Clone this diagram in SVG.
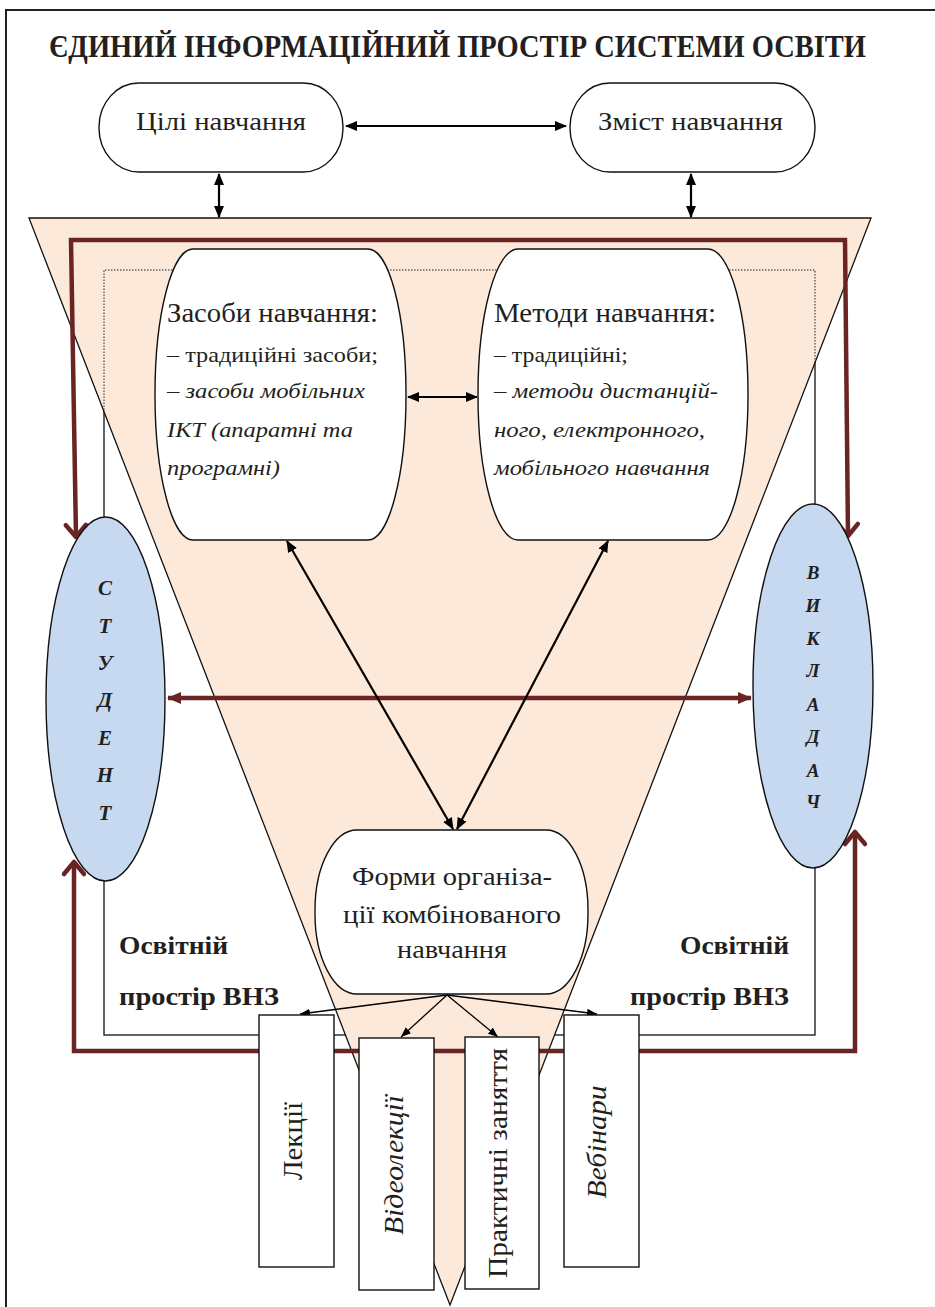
<svg xmlns="http://www.w3.org/2000/svg" width="935" height="1307" viewBox="0 0 935 1307">
<style>
.node{fill:#fff;stroke:#111;stroke-width:1.4}
.ell{fill:#c6d9f1;stroke:#111;stroke-width:1.4}
.blk{stroke:#000;stroke-width:2.2;fill:none}
.thin{stroke:#000;stroke-width:1.3;fill:none}
.mar{stroke:#6a2424;stroke-width:4.5;fill:none}
</style>
<defs>
<marker id="ab" viewBox="0 0 12 10" refX="11" refY="5" markerWidth="12" markerHeight="10" markerUnits="userSpaceOnUse" orient="auto-start-reverse">
<path d="M0,0 L12,5 L0,10 Z" fill="#000"/>
</marker>
<marker id="as" viewBox="0 0 10 8" refX="10" refY="4" markerWidth="10" markerHeight="8" markerUnits="userSpaceOnUse" orient="auto-start-reverse">
<path d="M0,0 L10,4 L0,8 Z" fill="#000"/>
</marker>
<marker id="am" viewBox="0 0 14 12" refX="13" refY="6" markerWidth="14" markerHeight="12" markerUnits="userSpaceOnUse" orient="auto-start-reverse">
<path d="M0,0 L14,6 L0,12 Z" fill="#6a2424"/>
</marker>
<marker id="av" viewBox="-4 -4 24 32" refX="14" refY="12" markerWidth="24" markerHeight="32" markerUnits="userSpaceOnUse" orient="auto-start-reverse">
<path d="M2,2 L14,12 L2,22" fill="none" stroke="#6a2424" stroke-width="4.5" stroke-linecap="round" stroke-linejoin="round"/>
</marker>
</defs>
<rect width="935" height="1307" fill="#fff"/>
<path d="M6,1307 V10 H935" fill="none" stroke="#222" stroke-width="2"/>
<text font-family="'Liberation Serif', serif" fill="#231f20" font-weight="bold" x="49" y="57" font-size="31" textLength="817" lengthAdjust="spacingAndGlyphs">ЄДИНИЙ ІНФОРМАЦІЙНИЙ ПРОСТІР СИСТЕМИ ОСВІТИ</text>

<g id="space">
<rect x="104" y="270" width="711" height="765" fill="#fff" stroke="#111" stroke-width="1.3"/>
</g>
<g id="funnel">
<polygon points="29,218 871,218 450,1305" fill="#fde9d9" stroke="#111" stroke-width="1.3"/>
<path d="M104,413 V270 H815 V363" fill="none" stroke="#222" stroke-width="1" stroke-dasharray="1.5,1.5"/>
</g>

<g id="connectors">
<path class="mar" d="M76,537 L71,240 H845 L848,536" marker-start="url(#av)" marker-end="url(#av)"/>
<path class="mar" d="M74,862 V1051 H855 V832" marker-start="url(#av)" marker-end="url(#av)"/>
<line class="mar" x1="168" y1="698" x2="751" y2="698" stroke-width="4" marker-start="url(#am)" marker-end="url(#am)"/>
<line class="blk" x1="346" y1="126" x2="566" y2="126" marker-start="url(#ab)" marker-end="url(#ab)"/>
<line class="blk" x1="219" y1="174" x2="219" y2="217" marker-start="url(#ab)" marker-end="url(#ab)"/>
<line class="blk" x1="691" y1="174" x2="691" y2="217" marker-start="url(#ab)" marker-end="url(#ab)"/>
<line class="blk" x1="408" y1="397" x2="477" y2="397" marker-start="url(#ab)" marker-end="url(#ab)"/>
<line class="blk" x1="287" y1="541" x2="453" y2="829" marker-start="url(#ab)" marker-end="url(#ab)"/>
<line class="blk" x1="608" y1="541" x2="457" y2="829" marker-start="url(#ab)" marker-end="url(#ab)"/>
<line class="thin" x1="447" y1="995" x2="300" y2="1014" marker-end="url(#as)"/>
<line class="thin" x1="447" y1="995" x2="401" y2="1037" marker-end="url(#as)"/>
<line class="thin" x1="447" y1="995" x2="498" y2="1037" marker-end="url(#as)"/>
<line class="thin" x1="447" y1="995" x2="597" y2="1014" marker-end="url(#as)"/>
</g>

<g id="goals">
<rect class="node" x="99" y="83" width="244" height="89" rx="40" ry="44"/>
<text font-family="'Liberation Serif', serif" fill="#231f20" x="136" y="130" font-size="26" textLength="170" lengthAdjust="spacingAndGlyphs">Цілі навчання</text>
</g>
<g id="content">
<rect class="node" x="570" y="83" width="245" height="89" rx="40" ry="44"/>
<text font-family="'Liberation Serif', serif" fill="#231f20" x="598" y="130" font-size="26" textLength="185" lengthAdjust="spacingAndGlyphs">Зміст навчання</text>
</g>

<g id="means">
<rect class="node" x="155" y="249" width="251" height="291" rx="38" ry="145"/>
<text font-family="'Liberation Serif', serif" fill="#231f20" x="167" y="322" font-size="27" textLength="211" lengthAdjust="spacingAndGlyphs">Засоби навчання:</text>
<text font-family="'Liberation Serif', serif" fill="#231f20" x="167" y="362" font-size="22" textLength="211" lengthAdjust="spacingAndGlyphs">– традиційні засоби;</text>
<text font-family="'Liberation Serif', serif" fill="#231f20" font-style="italic" x="167" y="398" font-size="22" textLength="198" lengthAdjust="spacingAndGlyphs">– засоби мобільних</text>
<text font-family="'Liberation Serif', serif" fill="#231f20" font-style="italic" x="167" y="437" font-size="22" textLength="186" lengthAdjust="spacingAndGlyphs">ІКТ (апаратні та</text>
<text font-family="'Liberation Serif', serif" fill="#231f20" font-style="italic" x="167" y="475" font-size="22" textLength="113" lengthAdjust="spacingAndGlyphs">програмні)</text>
</g>

<g id="methods">
<rect class="node" x="478" y="249" width="270" height="291" rx="40" ry="145"/>
<text font-family="'Liberation Serif', serif" fill="#231f20" x="494" y="322" font-size="27" textLength="222" lengthAdjust="spacingAndGlyphs">Методи навчання:</text>
<text font-family="'Liberation Serif', serif" fill="#231f20" x="494" y="362" font-size="22" textLength="134" lengthAdjust="spacingAndGlyphs">– традиційні;</text>
<text font-family="'Liberation Serif', serif" fill="#231f20" font-style="italic" x="494" y="398" font-size="22" textLength="224" lengthAdjust="spacingAndGlyphs">– методи дистанцій-</text>
<text font-family="'Liberation Serif', serif" fill="#231f20" font-style="italic" x="494" y="437" font-size="22" textLength="211" lengthAdjust="spacingAndGlyphs">ного, електронного,</text>
<text font-family="'Liberation Serif', serif" fill="#231f20" font-style="italic" x="494" y="475" font-size="22" textLength="216" lengthAdjust="spacingAndGlyphs">мобільного навчання</text>
</g>

<g id="student">
<ellipse class="ell" cx="105.5" cy="699" rx="59.5" ry="182"/>
<text font-family="'Liberation Serif', serif" fill="#231f20" font-weight="bold" font-style="italic" font-size="21" text-anchor="middle" x="105" y="595">С</text>
<text font-family="'Liberation Serif', serif" fill="#231f20" font-weight="bold" font-style="italic" font-size="21" text-anchor="middle" x="105" y="633">Т</text>
<text font-family="'Liberation Serif', serif" fill="#231f20" font-weight="bold" font-style="italic" font-size="21" text-anchor="middle" x="105" y="670">У</text>
<text font-family="'Liberation Serif', serif" fill="#231f20" font-weight="bold" font-style="italic" font-size="21" text-anchor="middle" x="105" y="707">Д</text>
<text font-family="'Liberation Serif', serif" fill="#231f20" font-weight="bold" font-style="italic" font-size="21" text-anchor="middle" x="105" y="745">Е</text>
<text font-family="'Liberation Serif', serif" fill="#231f20" font-weight="bold" font-style="italic" font-size="21" text-anchor="middle" x="105" y="782">Н</text>
<text font-family="'Liberation Serif', serif" fill="#231f20" font-weight="bold" font-style="italic" font-size="21" text-anchor="middle" x="105" y="820">Т</text>
</g>

<g id="teacher">
<ellipse class="ell" cx="813" cy="686" rx="60" ry="182"/>
<text font-family="'Liberation Serif', serif" fill="#231f20" font-weight="bold" font-style="italic" font-size="19" text-anchor="middle" x="813" y="579">В</text>
<text font-family="'Liberation Serif', serif" fill="#231f20" font-weight="bold" font-style="italic" font-size="19" text-anchor="middle" x="813" y="612">И</text>
<text font-family="'Liberation Serif', serif" fill="#231f20" font-weight="bold" font-style="italic" font-size="19" text-anchor="middle" x="813" y="645">К</text>
<text font-family="'Liberation Serif', serif" fill="#231f20" font-weight="bold" font-style="italic" font-size="19" text-anchor="middle" x="813" y="677">Л</text>
<text font-family="'Liberation Serif', serif" fill="#231f20" font-weight="bold" font-style="italic" font-size="19" text-anchor="middle" x="813" y="711">А</text>
<text font-family="'Liberation Serif', serif" fill="#231f20" font-weight="bold" font-style="italic" font-size="19" text-anchor="middle" x="813" y="743">Д</text>
<text font-family="'Liberation Serif', serif" fill="#231f20" font-weight="bold" font-style="italic" font-size="19" text-anchor="middle" x="813" y="777">А</text>
<text font-family="'Liberation Serif', serif" fill="#231f20" font-weight="bold" font-style="italic" font-size="19" text-anchor="middle" x="813" y="808">Ч</text>
</g>

<g id="forms">
<rect class="node" x="315" y="830" width="273" height="164" rx="42" ry="80"/>
<text font-family="'Liberation Serif', serif" fill="#231f20" font-size="26" text-anchor="middle" x="452" y="885" textLength="200" lengthAdjust="spacingAndGlyphs">Форми організа-</text>
<text font-family="'Liberation Serif', serif" fill="#231f20" font-size="26" text-anchor="middle" x="452" y="923" textLength="218" lengthAdjust="spacingAndGlyphs">ції комбінованого</text>
<text font-family="'Liberation Serif', serif" fill="#231f20" font-size="26" text-anchor="middle" x="452" y="958" textLength="110" lengthAdjust="spacingAndGlyphs">навчання</text>
</g>

<g id="space-labels">
<text font-family="'Liberation Serif', serif" fill="#231f20" font-weight="bold" font-size="26" x="119" y="954" textLength="109" lengthAdjust="spacingAndGlyphs">Освітній</text>
<text font-family="'Liberation Serif', serif" fill="#231f20" font-weight="bold" font-size="26" x="119" y="1005" textLength="160" lengthAdjust="spacingAndGlyphs">простір ВНЗ</text>
<text font-family="'Liberation Serif', serif" fill="#231f20" font-weight="bold" font-size="26" x="680" y="954" textLength="109" lengthAdjust="spacingAndGlyphs">Освітній</text>
<text font-family="'Liberation Serif', serif" fill="#231f20" font-weight="bold" font-size="26" x="630" y="1005" textLength="159" lengthAdjust="spacingAndGlyphs">простір ВНЗ</text>
</g>

<g id="lectures">
<rect class="node" x="259" y="1015" width="75" height="252"/>
<text font-family="'Liberation Serif', serif" fill="#231f20" transform="translate(302,1141) rotate(-90)" font-size="28" text-anchor="middle" textLength="78" lengthAdjust="spacingAndGlyphs">Лекції</text>
</g>
<g id="videolectures">
<rect class="node" x="359" y="1038" width="75" height="252"/>
<text font-family="'Liberation Serif', serif" fill="#231f20" font-style="italic" transform="translate(403,1165) rotate(-90)" font-size="28" text-anchor="middle" textLength="140" lengthAdjust="spacingAndGlyphs">Відеолекції</text>
</g>
<g id="practical">
<rect class="node" x="465" y="1037" width="74" height="252"/>
<text font-family="'Liberation Serif', serif" fill="#231f20" transform="translate(507,1163) rotate(-90)" font-size="28" text-anchor="middle" textLength="230" lengthAdjust="spacingAndGlyphs">Практичні заняття</text>
</g>
<g id="webinars">
<rect class="node" x="564" y="1015" width="75" height="252"/>
<text font-family="'Liberation Serif', serif" fill="#231f20" font-style="italic" transform="translate(606,1142) rotate(-90)" font-size="28" text-anchor="middle" textLength="113" lengthAdjust="spacingAndGlyphs">Вебінари</text>
</g>
</svg>
